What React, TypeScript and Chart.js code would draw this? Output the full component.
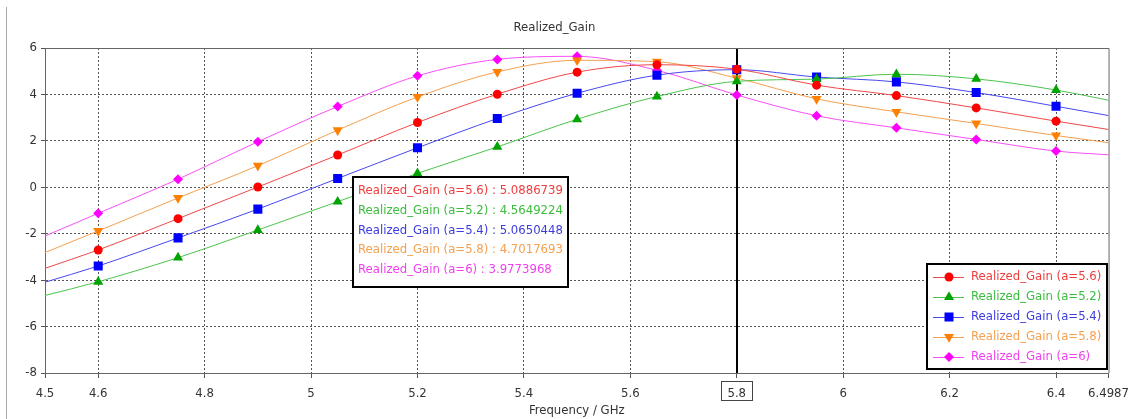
import React, { useEffect, useRef } from 'react';
import { Chart, registerables } from 'chart.js';

Chart.register(...registerables);

// ---- data ----
const frequencies = [4.5, 4.6, 4.75, 4.9, 5.05, 5.2, 5.35, 5.5, 5.65, 5.8, 5.95, 6.1, 6.25, 6.4, 6.4987];
const gainA56 = [-3.49, -2.7, -1.35, 0.01, 1.39, 2.79, 4.01, 4.96, 5.28, 5.0886739, 4.4, 3.95, 3.42, 2.85, 2.49];
const gainA52 = [-4.66, -4.07, -3.03, -1.84, -0.62, 0.6, 1.74, 2.93, 3.91, 4.5649224, 4.66, 4.87, 4.67, 4.19, 3.75];
const gainA54 = [-4.09, -3.39, -2.18, -0.94, 0.38, 1.7, 2.96, 4.05, 4.83, 5.0650448, 4.75, 4.54, 4.08, 3.49, 3.09];
const gainA58 = [-2.81, -1.88, -0.46, 0.93, 2.46, 3.89, 4.97, 5.47, 5.41, 4.7017693, 3.81, 3.25, 2.75, 2.23, 1.92];
const gainA60 = [-2.1, -1.12, 0.35, 1.96, 3.48, 4.8, 5.51, 5.64, 5.04, 3.9773968, 3.08, 2.56, 2.06, 1.56, 1.4];
const seriesLabels = [
  'Realized_Gain (a=5.6)',
  'Realized_Gain (a=5.2)',
  'Realized_Gain (a=5.4)',
  'Realized_Gain (a=5.8)',
  'Realized_Gain (a=6)',
];
const seriesValues = [gainA56, gainA52, gainA54, gainA58, gainA60];
const xTickValues = [4.5, 4.6, 4.8, 5, 5.2, 5.4, 5.6, 5.8, 6, 6.2, 6.4, 6.4987];
const yTickValues = [-8, -6, -4, -2, 0, 2, 4, 6];
const markerFrequency = 5.8;
const chartTitle = 'Realized_Gain';
const xAxisTitle = 'Frequency / GHz';

// ---- styles ----
const markerColors = ['#ff0000', '#00a400', '#0000ff', '#ff8000', '#ff00ff'];
const lineColors = ['#f04848', '#4cc44c', '#4848f0', '#f4a050', '#f850f8'];
const textColors = ['#f03c3c', '#3cbc3c', '#3c3ce0', '#f4a050', '#f040f0'];
const markerShapes = ['circle', 'triangle', 'square', 'triangleDown', 'diamond'];
const FAMILY = "'DejaVu Sans Condensed', 'DejaVu Sans', sans-serif";
const FONT_SIZE = 13;
const FONT = `${FONT_SIZE}px ${FAMILY}`;

function drawMarker(ctx: CanvasRenderingContext2D, shape: string, x: number, y: number, color: string) {
  ctx.save();
  ctx.fillStyle = color;
  ctx.beginPath();
  if (shape === 'circle') {
    ctx.arc(x, y, 4.5, 0, Math.PI * 2);
  } else if (shape === 'triangle') {
    const r = 5.8;
    ctx.moveTo(x, y - r);
    ctx.lineTo(x - r * 0.866, y + r / 2);
    ctx.lineTo(x + r * 0.866, y + r / 2);
    ctx.closePath();
  } else if (shape === 'triangleDown') {
    const r = 5.8;
    ctx.moveTo(x, y + r);
    ctx.lineTo(x - r * 0.866, y - r / 2);
    ctx.lineTo(x + r * 0.866, y - r / 2);
    ctx.closePath();
  } else if (shape === 'square') {
    ctx.rect(x - 4.5, y - 4.5, 9, 9);
  } else {
    const r = 5;
    ctx.moveTo(x, y - r);
    ctx.lineTo(x + r, y);
    ctx.lineTo(x, y + r);
    ctx.lineTo(x - r, y);
    ctx.closePath();
  }
  ctx.fill();
  ctx.restore();
}

const pointStyleFor = (shape: string) =>
  shape === 'circle' ? 'circle' : shape === 'square' ? 'rect' : shape === 'diamond' ? 'rectRot' : 'triangle';
const pointRadiusFor = (shape: string) =>
  shape === 'circle' ? 4.5 : shape === 'square' ? 6.4 : shape === 'diamond' ? 5 : 5.8;

const decorPlugin = {
  id: 'decor',
  beforeDatasetsDraw(chart: any) {
    const { ctx, chartArea, scales } = chart;
    const x = Math.round(scales.x.getPixelForValue(markerFrequency));
    ctx.save();
    ctx.fillStyle = '#000';
    ctx.fillRect(x - 1, chartArea.top, 2, chartArea.bottom - chartArea.top);
    ctx.restore();
  },
  afterDraw(chart: any) {
    const { ctx, chartArea, scales } = chart;
    ctx.save();
    // plot frame (top/right)
    ctx.strokeStyle = '#666';
    ctx.lineWidth = 1;
    ctx.beginPath();
    ctx.moveTo(chartArea.left, Math.round(chartArea.top) + 0.5);
    ctx.lineTo(chartArea.right + 0.5, Math.round(chartArea.top) + 0.5);
    ctx.lineTo(chartArea.right + 0.5, chartArea.bottom);
    ctx.stroke();
    // panel edge
    ctx.fillStyle = '#aaa';
    ctx.fillRect(6, 7, 1, chart.height - 7);

    // boxed marker tick label
    ctx.font = FONT;
    const mx = scales.x.getPixelForValue(markerFrequency);
    const label = String(markerFrequency);
    const w = ctx.measureText(label).width;
    ctx.strokeStyle = '#444';
    ctx.strokeRect(Math.round(mx - w / 2 - 6) + 0.5, chartArea.bottom + 8.5, Math.round(w + 12), 19);

    // marker readout box
    const idx = frequencies.indexOf(markerFrequency);
    const bx = 353, by = 177, bw = 215, bh = 110;
    ctx.fillStyle = '#fff';
    ctx.fillRect(bx, by, bw, bh);
    ctx.strokeStyle = '#000';
    ctx.lineWidth = 2;
    ctx.strokeRect(bx, by, bw, bh);
    ctx.textBaseline = 'middle';
    ctx.textAlign = 'left';
    seriesLabels.forEach((lab, i) => {
      ctx.fillStyle = textColors[i];
      ctx.fillText(`${lab} : ${seriesValues[i][idx].toFixed(7)}`, bx + 5, by + 14 + i * 19.7);
    });

    // legend box
    const lx = 927, ly = 264, lw = 180, lh = 105;
    ctx.fillStyle = '#fff';
    ctx.fillRect(lx, ly, lw, lh);
    ctx.strokeStyle = '#000';
    ctx.lineWidth = 2;
    ctx.strokeRect(lx, ly, lw, lh);
    seriesLabels.forEach((lab, i) => {
      const yy = ly + 13 + i * 20;
      ctx.strokeStyle = lineColors[i];
      ctx.lineWidth = 1;
      ctx.beginPath();
      ctx.moveTo(lx + 6, yy + 0.5);
      ctx.lineTo(lx + 37, yy + 0.5);
      ctx.stroke();
      drawMarker(ctx, markerShapes[i], lx + 22, yy, markerColors[i]);
      ctx.fillStyle = textColors[i];
      ctx.fillText(lab, lx + 44, yy);
    });
    ctx.restore();
  },
};

export default function App() {
  const canvasRef = useRef<HTMLCanvasElement | null>(null);

  useEffect(() => {
    document.body.style.margin = '0';
    const canvas = canvasRef.current;
    if (!canvas) return;
    const hidden = [4.5, 6.4987, markerFrequency];
    const chart = new Chart(canvas, {
      type: 'line',
      data: {
        datasets: seriesLabels.map((label, i) => ({
          label,
          data: frequencies.map((f, k) => ({ x: f, y: seriesValues[i][k] })),
          borderColor: lineColors[i],
          borderWidth: 1,
          backgroundColor: markerColors[i],
          pointBackgroundColor: markerColors[i],
          pointBorderColor: markerColors[i],
          pointBorderWidth: 0,
          pointStyle: pointStyleFor(markerShapes[i]) as any,
          pointRotation: markerShapes[i] === 'triangleDown' ? 180 : 0,
          pointRadius: frequencies.map((_, k) => (k === 0 || k === frequencies.length - 1 ? 0 : pointRadiusFor(markerShapes[i]))),
          pointHoverRadius: 0,
          cubicInterpolationMode: 'monotone' as const,
          fill: false,
        })),
      },
      options: {
        responsive: false,
        animation: false,
        devicePixelRatio: 1,
        events: [],
        layout: { padding: { left: 0, right: 28, top: 0, bottom: 0 } },
        plugins: {
          legend: { display: false },
          tooltip: { enabled: false },
          title: {
            display: true,
            text: chartTitle,
            color: '#333',
            font: { family: FAMILY, size: FONT_SIZE, weight: 'normal' as any },
            padding: { top: 20, bottom: 12.4 },
          },
        },
        scales: {
          x: {
            type: 'linear',
            min: 4.5,
            max: 6.4987,
            afterBuildTicks: (s: any) => {
              s.ticks = xTickValues.map((v) => ({ value: v }));
            },
            afterFit: (s: any) => {
              s.height = 46;
            },
            ticks: {
              autoSkip: false,
              maxRotation: 0,
              minRotation: 0,
              padding: 8,
              color: '#333',
              font: { family: FAMILY, size: FONT_SIZE },
              callback: (v: any) => String(Number(Number(v).toFixed(4))),
            },
            grid: {
              color: (c: any) => (c.tick && hidden.includes(c.tick.value) ? 'rgba(0,0,0,0)' : '#555'),
              tickColor: '#555',
              tickLength: 5,
              tickBorderDash: [],
              drawTicks: true,
            },
            border: { display: true, color: '#666', width: 1, dash: [2, 2] },
            title: {
              display: true,
              text: xAxisTitle,
              color: '#333',
              font: { family: FAMILY, size: FONT_SIZE },
              padding: { top: 0, bottom: 1 },
            },
          },
          y: {
            type: 'linear',
            min: -8,
            max: 6,
            afterBuildTicks: (s: any) => {
              s.ticks = yTickValues.map((v) => ({ value: v }));
            },
            afterFit: (s: any) => {
              s.width = 45;
            },
            ticks: {
              padding: 4,
              color: '#333',
              font: { family: FAMILY, size: FONT_SIZE },
            },
            grid: {
              color: (c: any) => (c.tick && (c.tick.value === -8 || c.tick.value === 6) ? 'rgba(0,0,0,0)' : '#555'),
              tickColor: '#555',
              tickLength: 4,
              tickBorderDash: [],
            },
            border: { display: true, color: '#666', width: 1, dash: [2, 2] },
          },
        },
      },
      plugins: [decorPlugin],
    });
    return () => chart.destroy();
  }, []);

  return (
    <div style={{ width: 1137, height: 419, position: 'relative', background: '#fff' }}>
      <canvas ref={canvasRef} width={1137} height={419} />
    </div>
  );
}
